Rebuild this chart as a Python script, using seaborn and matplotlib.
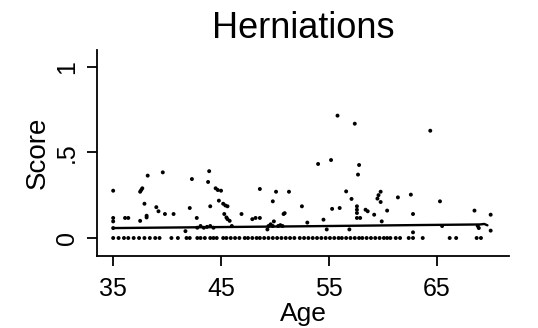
import matplotlib
matplotlib.use("Agg")
import matplotlib.pyplot as plt
import seaborn as sns
import pandas as pd

# --- data: non-zero scores (age, score) ---
pos_age = [35.0, 35.0, 35.0, 35.0, 36.1, 36.4, 37.5, 37.6, 37.7, 37.5, 37.9, 38.1, 38.1,
           38.2, 39.0, 39.2, 39.6, 39.8, 40.6, 41.7, 42.1, 42.3, 42.75, 42.8, 43.1, 43.4,
           43.7, 44.0, 44.3, 43.8, 43.9, 44.0, 44.5, 44.7, 45.0, 44.8, 45.2, 45.4, 45.6,
           45.3, 45.5, 45.6, 45.8, 46.0, 46.9, 47.9, 48.2, 48.6, 48.6, 49.3, 49.4, 49.6,
           49.8, 49.8, 49.9, 50.1, 50.3, 50.5, 50.7, 50.8, 50.9, 51.3, 52.5, 53.0, 54.0,
           54.5, 54.8, 55.2, 55.3, 55.8, 56.0, 56.6, 56.9, 57.1, 57.4, 57.6, 57.6, 57.6,
           57.6, 57.7, 57.8, 57.9, 58.4, 58.6, 59.2, 59.5, 59.6, 59.8, 59.8, 59.9, 60.4,
           61.4, 62.6, 62.8, 62.8, 64.4, 65.3, 65.5, 68.5, 68.8, 68.9, 70.0, 70.0]
pos_score = [0.276, 0.117, 0.097, 0.058, 0.117, 0.117, 0.27, 0.28, 0.29, 0.10, 0.20, 0.13,
             0.12, 0.364, 0.18, 0.156, 0.383, 0.14, 0.14, 0.04, 0.175, 0.344, 0.117, 0.06,
             0.07, 0.06, 0.065, 0.07, 0.06, 0.327, 0.39, 0.185, 0.29, 0.28, 0.276, 0.218,
             0.20, 0.19, 0.185, 0.14, 0.12, 0.11, 0.10, 0.07, 0.14, 0.11, 0.117, 0.286,
             0.117, 0.05, 0.07, 0.08, 0.214, 0.07, 0.097, 0.27, 0.07, 0.075, 0.07, 0.14,
             0.145, 0.27, 0.185, 0.09, 0.432, 0.107, 0.05, 0.455, 0.17, 0.714, 0.175,
             0.272, 0.05, 0.228, 0.667, 0.185, 0.165, 0.146, 0.117, 0.37, 0.426, 0.117,
             0.165, 0.156, 0.136, 0.23, 0.25, 0.27, 0.21, 0.097, 0.16, 0.237, 0.253, 0.14,
             0.033, 0.626, 0.214, 0.07, 0.16, 0.07, 0.058, 0.136, 0.043]

# --- data: zero scores (age) ---
zero_age = [35.0, 35.5, 36.0, 36.4, 36.9, 37.4, 37.9, 38.4, 38.9, 39.3,
            40.4, 41.0, 41.8, 42.1, 42.8, 43.1, 43.5, 44.0, 44.3, 44.6, 45.2, 45.5,
            45.9, 46.3, 46.7, 47.2, 47.5, 47.9, 48.3, 48.6, 49.0, 49.4, 49.8, 50.2,
            50.6, 51.0, 51.4, 51.8, 52.3, 52.7, 53.1, 53.5, 53.9, 54.3, 54.7, 55.1,
            55.5, 55.9, 56.2, 56.6, 57.0, 57.4, 57.8, 58.1, 58.5, 58.9, 59.3, 59.7,
            60.1, 60.4, 60.7, 61.2, 61.6, 62.4, 62.8, 63.7, 66.2, 66.8, 68.7, 69.1]

# --- data: fitted line ---
fit_age = [35.0, 52.0, 64.0, 69.0, 69.4, 69.7]
fit_score = [0.058, 0.068, 0.076, 0.079, 0.082, 0.074]

ages = pos_age + zero_age
scores = pos_score + [0.0] * len(zero_age)
df = pd.DataFrame({"Age": ages, "Score": scores})
fit = pd.DataFrame({"Age": fit_age, "Score": fit_score})

sns.set_style("ticks")
plt.rcParams["font.family"] = ["Liberation Sans", "DejaVu Sans"]
plt.rcParams["text.color"] = "black"
plt.rcParams["axes.labelcolor"] = "black"

fig = plt.figure(figsize=(5.38, 3.28), dpi=100)
ax = fig.add_axes([97 / 538, 1 - 256 / 328, 412 / 538, 206 / 328])

sns.scatterplot(data=df, x="Age", y="Score", ax=ax, color="black", s=8,
                linewidth=0, edgecolor="none", legend=False)
sns.lineplot(data=fit, x="Age", y="Score", ax=ax, color="black", linewidth=1.7,
             legend=False, estimator=None, sort=False)

ax.set_xlim(33.5, 71.7)
ax.set_ylim(-0.105, 1.097)
ax.set_xticks([35, 45, 55, 65])
ax.set_xticklabels(["35", "45", "55", "65"])
ax.set_yticks([0, 0.5, 1])
ax.set_yticklabels(["0", ".5", "1"], rotation=90, va="center")

for s in ["top", "right"]:
    ax.spines[s].set_visible(False)
for s in ["left", "bottom"]:
    ax.spines[s].set_linewidth(1.3)
    ax.spines[s].set_color("black")
ax.tick_params(axis="both", direction="out", length=7, width=1.3, colors="black",
               labelsize=18)
ax.tick_params(axis="x", pad=8)
ax.tick_params(axis="y", pad=6)

ax.set_xlabel("Age", fontsize=19, labelpad=1, color="black")
ax.set_ylabel("Score", fontsize=20, labelpad=3, color="black")
ax.set_title("Herniations", fontsize=26, pad=9, color="black")

fig.savefig("out.png", dpi=100)
